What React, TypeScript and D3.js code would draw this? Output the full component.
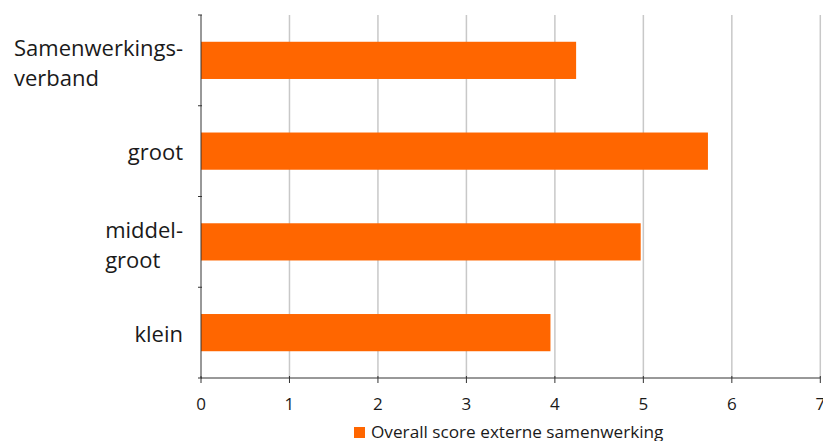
import React, { useEffect, useRef } from "react";
import * as d3 from "d3";

const categories: string[][] = [
  ["Samenwerkings-", "verband"],
  ["groot"],
  ["middel-", "groot"],
  ["klein"],
];
const values: number[] = [4.24, 5.73, 4.97, 3.95];
const xTicks: number[] = [0, 1, 2, 3, 4, 5, 6, 7];
const seriesName = "Overall score externe samenwerking";

const W = 823;
const H = 441;
const margin = { left: 201, right: 3, top: 15, bottom: 63 };
const FONT = "'Open Sans', Lato, sans-serif";
const ORANGE = "#ff6600";

export default function App() {
  const ref = useRef<SVGSVGElement | null>(null);

  useEffect(() => {
    const svg = d3.select(ref.current);
    svg.selectAll("*").remove();

    const x0 = margin.left;
    const y0 = margin.top;
    const y1 = H - margin.bottom;

    const x = d3.scaleLinear().domain([0, 7]).range([x0, 820.3]);
    const keys = categories.map((c) => c.join(""));
    const y = d3.scaleBand<string>().domain(keys).range([y0, y1]).paddingInner(0.59).paddingOuter(0.295);
    const band = d3.scaleBand<string>().domain(keys).range([y0, y1]);

    svg
      .append("g")
      .selectAll("line")
      .data(xTicks.filter((t) => t > 0))
      .join("line")
      .attr("x1", (d) => x(d))
      .attr("x2", (d) => x(d))
      .attr("y1", y0)
      .attr("y2", y1)
      .attr("stroke", "#c8c8c8")
      .attr("stroke-width", 1.5);

    svg
      .append("g")
      .selectAll("rect")
      .data(values)
      .join("rect")
      .attr("x", x(0))
      .attr("y", (_, i) => y(keys[i])!)
      .attr("width", (d) => x(d) - x(0))
      .attr("height", y.bandwidth())
      .attr("fill", ORANGE);

    const axisColor = "#333";
    svg
      .append("line")
      .attr("x1", x0)
      .attr("x2", x0)
      .attr("y1", y0)
      .attr("y2", y1)
      .attr("stroke", axisColor)
      .attr("stroke-width", 1);
    const yTickPos = keys.map((k) => band(k)!).concat([y1]);
    svg
      .append("g")
      .selectAll("line")
      .data(yTickPos)
      .join("line")
      .attr("x1", x0 - 3)
      .attr("x2", x0 + 1)
      .attr("y1", (d) => d)
      .attr("y2", (d) => d)
      .attr("stroke", axisColor)
      .attr("stroke-width", 1);

    svg
      .append("line")
      .attr("x1", x0)
      .attr("x2", x(7))
      .attr("y1", y1)
      .attr("y2", y1)
      .attr("stroke", axisColor)
      .attr("stroke-width", 1);
    svg
      .append("g")
      .selectAll("line")
      .data(xTicks)
      .join("line")
      .attr("x1", (d) => x(d))
      .attr("x2", (d) => x(d))
      .attr("y1", y1 - 2)
      .attr("y2", y1 + 5)
      .attr("stroke", axisColor)
      .attr("stroke-width", 1);

    svg
      .append("g")
      .selectAll("text")
      .data(xTicks)
      .join("text")
      .attr("x", (d) => x(d))
      .attr("y", 410)
      .attr("text-anchor", "middle")
      .attr("font-family", FONT)
      .attr("font-size", 17)
      .attr("fill", "#1a1a1a")
      .text((d) => String(d));

    const lineH = 30;
    const rightEdge = 183;
    categories.forEach((lines, i) => {
      const cy = band(keys[i])! + band.bandwidth() / 2;
      const g = svg.append("g");
      const texts = g
        .selectAll("text")
        .data(lines)
        .join("text")
        .attr("y", (_, j) => cy + 9 - ((lines.length - 1) * lineH) / 2 + j * lineH + (lines.length > 1 ? 2 : 0))
        .attr("font-family", FONT)
        .attr("font-size", 22)
        .attr("fill", "#1a1a1a")
        .text((d) => d);
      let maxW = 0;
      texts.each(function () {
        maxW = Math.max(maxW, (this as SVGTextElement).getComputedTextLength());
      });
      texts.attr("x", rightEdge - maxW);
    });

    svg
      .append("rect")
      .attr("x", 354)
      .attr("y", 427)
      .attr("width", 11)
      .attr("height", 11)
      .attr("fill", ORANGE);
    svg
      .append("text")
      .attr("x", 371)
      .attr("y", 438)
      .attr("font-family", FONT)
      .attr("font-size", 17.2)
      .attr("fill", "#1a1a1a")
      .text(seriesName);
  }, []);

  return (
    <svg
      ref={ref}
      width={W}
      height={H}
      style={{ position: "absolute", left: 0, top: 0, background: "#fff" }}
    />
  );
}
